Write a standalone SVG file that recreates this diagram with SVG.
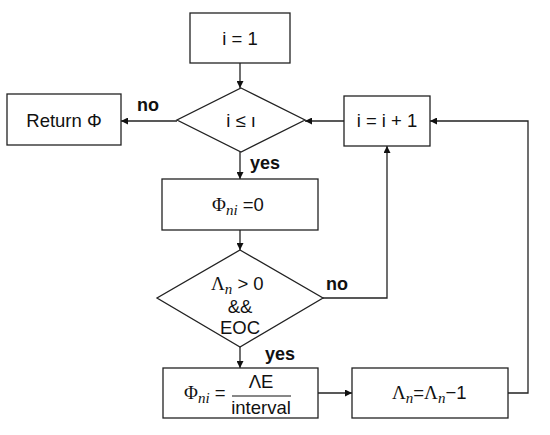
<svg xmlns="http://www.w3.org/2000/svg" width="550" height="435" viewBox="0 0 550 435">
<style>
.box{fill:#fff;stroke:#222;stroke-width:1.3}
.t{font-family:"Liberation Sans",Arial,sans-serif;font-size:18.5px;fill:#111}
.lbl{font-family:"Liberation Sans",Arial,sans-serif;font-size:18px;font-weight:bold;fill:#111}
.m{font-family:"Liberation Serif","Times New Roman",serif;font-size:19px;fill:#111}
.s{font-family:"Liberation Serif","Times New Roman",serif;font-size:15px;font-style:italic;fill:#111}
.c{fill:none;stroke:#222;stroke-width:1.3}
</style>
<defs>
<marker id="a" viewBox="0 0 10 10" refX="10" refY="5" markerWidth="7" markerHeight="7" markerUnits="userSpaceOnUse" orient="auto">
<path d="M0,0 L10,5 L0,10 z" fill="#111"/>
</marker>
</defs>
<rect width="550" height="435" fill="#fff"/>
<g id="connectors">
<path class="c" d="M240,63 V88" marker-end="url(#a)"/>
<path class="c" d="M177,121 H121" marker-end="url(#a)"/>
<path class="c" d="M240,152 V179" marker-end="url(#a)"/>
<path class="c" d="M344,121 H305" marker-end="url(#a)"/>
<path class="c" d="M240,230 V250" marker-end="url(#a)"/>
<path class="c" d="M323,298 H387 V146" marker-end="url(#a)"/>
<path class="c" d="M240,347 V368" marker-end="url(#a)"/>
<path class="c" d="M318,393 H352" marker-end="url(#a)"/>
<path class="c" d="M508,393 H528 V121 H430" marker-end="url(#a)"/>
<text class="lbl" x="137" y="111">no</text>
<text class="lbl" x="250" y="169">yes</text>
<text class="lbl" x="326" y="290">no</text>
<text class="lbl" x="265" y="360">yes</text>
</g>
<g id="n1">
<rect class="box" x="190" y="13" width="100" height="50"/>
<text class="t" x="240" y="45" text-anchor="middle">i = 1</text>
</g>
<g id="n2">
<path class="box" d="M241,88 L305,120 L241,152 L177,120 Z"/>
<text class="t" x="241" y="127" text-anchor="middle">i ≤ ı</text>
</g>
<g id="n3">
<rect class="box" x="7" y="94" width="114" height="51"/>
<text class="t" x="64" y="127" text-anchor="middle">Return Φ</text>
</g>
<g id="n4">
<rect class="box" x="344" y="96" width="86" height="50"/>
<text class="t" x="387" y="127" text-anchor="middle">i = i + 1</text>
</g>
<g id="n5">
<rect class="box" x="162" y="179" width="156" height="51"/>
<text x="212" y="211"><tspan class="m">Φ</tspan><tspan class="s" dy="4">ni</tspan><tspan class="t" dy="-4"> =0</tspan></text>
</g>
<g id="n6">
<path class="box" d="M240,250 L323,298 L240,347 L157,298 Z"/>
<text x="211" y="290"><tspan class="m">Λ</tspan><tspan class="s" dy="4">n</tspan><tspan class="t" dy="-4"> &gt; 0</tspan></text>
<text class="t" x="240" y="313" text-anchor="middle">&amp;&amp;</text>
<text class="t" x="240" y="334" text-anchor="middle">EOC</text>
</g>
<g id="n7">
<rect class="box" x="163" y="368" width="155" height="50"/>
<text x="184" y="399"><tspan class="m">Φ</tspan><tspan class="s" dy="4">ni</tspan><tspan class="t" dy="-4"> =</tspan></text>
<text class="t" x="261" y="388" text-anchor="middle">ΛE</text>
<line x1="232" y1="396" x2="291" y2="396" stroke="#111" stroke-width="1.2"/>
<text class="t" x="261" y="414" text-anchor="middle">interval</text>
</g>
<g id="n8">
<rect class="box" x="352" y="368" width="156" height="50"/>
<text x="392" y="399"><tspan class="m">Λ</tspan><tspan class="s" dy="4">n</tspan><tspan class="t" dy="-4">=</tspan><tspan class="m">Λ</tspan><tspan class="s" dy="4">n</tspan><tspan class="t" dy="-4">−1</tspan></text>
</g>
</svg>
